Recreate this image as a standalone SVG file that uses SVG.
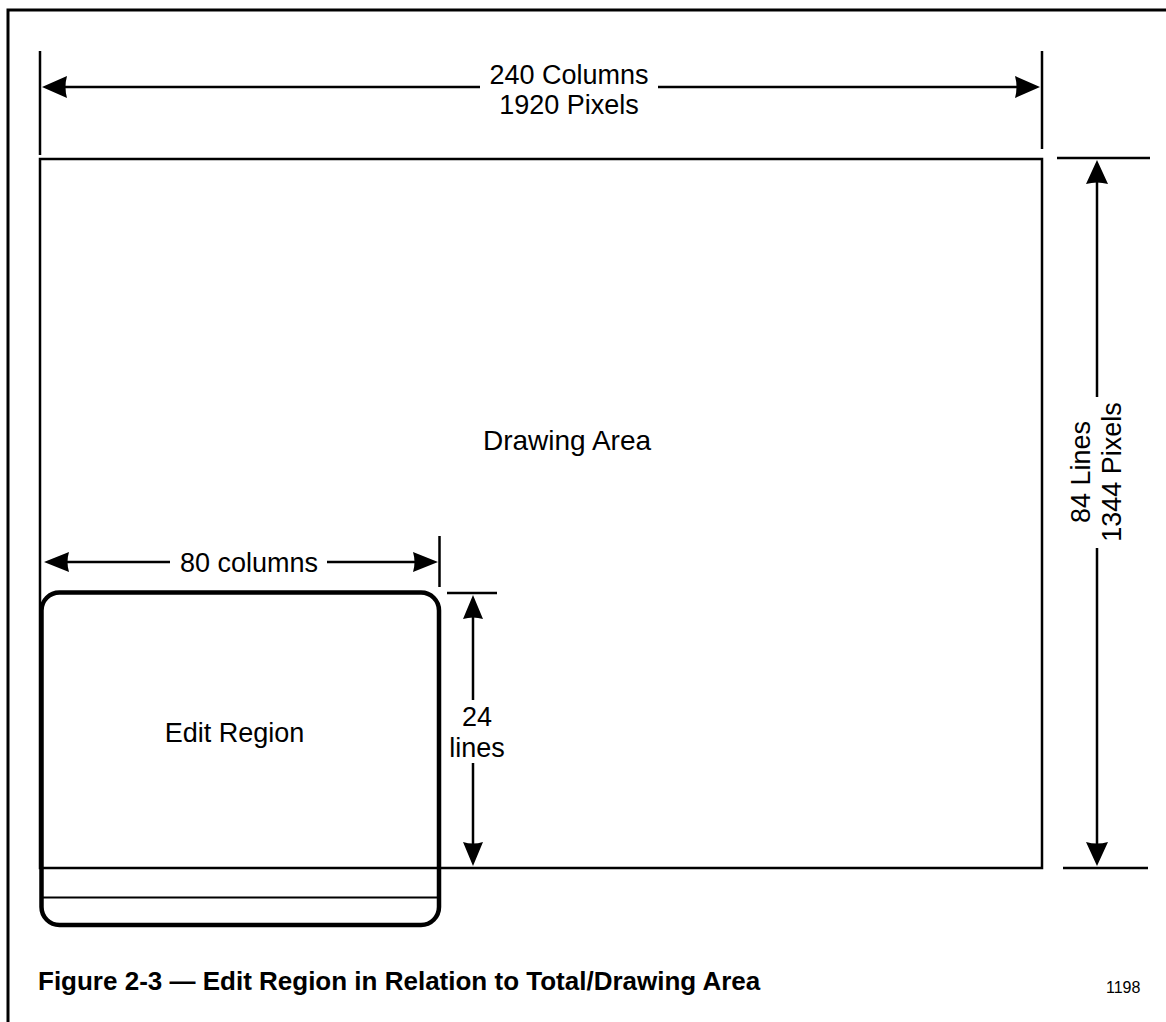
<svg xmlns="http://www.w3.org/2000/svg" width="1166" height="1022" viewBox="0 0 1166 1022">
<style>
.ln{stroke:#000;stroke-width:2.5;fill:none}
.thin{stroke:#000;stroke-width:2;fill:none}
.ah{fill:#000;stroke:none}
.t{font-family:"Liberation Sans",Arial,sans-serif;font-size:27px;fill:#000}
.cap{font-family:"Liberation Sans",Arial,sans-serif;font-size:26px;font-weight:bold;fill:#000}
.num{font-family:"Liberation Sans",Arial,sans-serif;font-size:16px;fill:#000}
</style>
<rect width="1166" height="1022" fill="#fff"/>
<g id="frame">
<path d="M8,1022 V10 H1166" stroke="#000" stroke-width="3" fill="none"/>
</g>
<g id="drawing-area">
<rect class="ln" x="40" y="159" width="1002" height="709"/>
<text class="t" x="567" y="450" text-anchor="middle" style="font-size:28px">Drawing Area</text>
</g>
<g id="edit-region">
<rect x="41.5" y="592.5" width="397.5" height="332.5" rx="18" ry="18" stroke="#000" stroke-width="4.5" fill="none"/>
<line class="thin" x1="43" y1="897.5" x2="437" y2="897.5"/>
<text class="t" x="234.5" y="742" text-anchor="middle">Edit Region</text>
</g>
<g id="connectors">
<line class="ln" x1="40" y1="51" x2="40" y2="155"/>
<line class="ln" x1="1042" y1="51" x2="1042" y2="149"/>
<line class="ln" x1="62" y1="87" x2="480" y2="87"/>
<line class="ln" x1="658" y1="87" x2="1020" y2="87"/>
<path class="ah" d="M42,87 L67,76 Q64,87 67,98 Z"/>
<path class="ah" d="M1040,87 L1015,76 Q1018,87 1015,98 Z"/>
<line class="ln" x1="1057" y1="158" x2="1150" y2="158"/>
<line class="ln" x1="1063" y1="868" x2="1148" y2="868"/>
<line class="ln" x1="1097" y1="178" x2="1097" y2="397"/>
<line class="ln" x1="1097" y1="548" x2="1097" y2="848"/>
<path class="ah" d="M1097,160 L1086,184 Q1097,181 1108,184 Z"/>
<path class="ah" d="M1097,866 L1086,842 Q1097,845 1108,842 Z"/>
<line class="ln" x1="439.5" y1="536" x2="439.5" y2="587"/>
<line class="ln" x1="62" y1="562" x2="170" y2="562"/>
<line class="ln" x1="327" y1="562" x2="420" y2="562"/>
<path class="ah" d="M44,562 L69,552 Q66,562 69,572 Z"/>
<path class="ah" d="M438,562 L413,552 Q416,562 413,572 Z"/>
<line class="ln" x1="447" y1="593" x2="497" y2="593"/>
<line class="ln" x1="473" y1="612" x2="473" y2="700"/>
<line class="ln" x1="473" y1="763" x2="473" y2="848"/>
<path class="ah" d="M473,595 L463,619 Q473,616 483,619 Z"/>
<path class="ah" d="M473,866 L463,842 Q473,845 483,842 Z"/>
</g>
<g id="labels">
<text class="t" x="569" y="84" text-anchor="middle">240 Columns</text>
<text class="t" x="569" y="114" text-anchor="middle">1920 Pixels</text>
<text class="t" x="249" y="572" text-anchor="middle">80 columns</text>
<text class="t" x="477" y="726" text-anchor="middle">24</text>
<text class="t" x="477" y="757" text-anchor="middle">lines</text>
<g transform="translate(1090,472) rotate(-90)">
<text class="t" x="0" y="0" text-anchor="middle">84 Lines</text>
<text class="t" x="0" y="31" text-anchor="middle">1344 Pixels</text>
</g>
<text class="cap" x="38" y="990">Figure 2-3 — Edit Region in Relation to Total/Drawing Area</text>
<text class="num" x="1106" y="993">1198</text>
</g>
</svg>
